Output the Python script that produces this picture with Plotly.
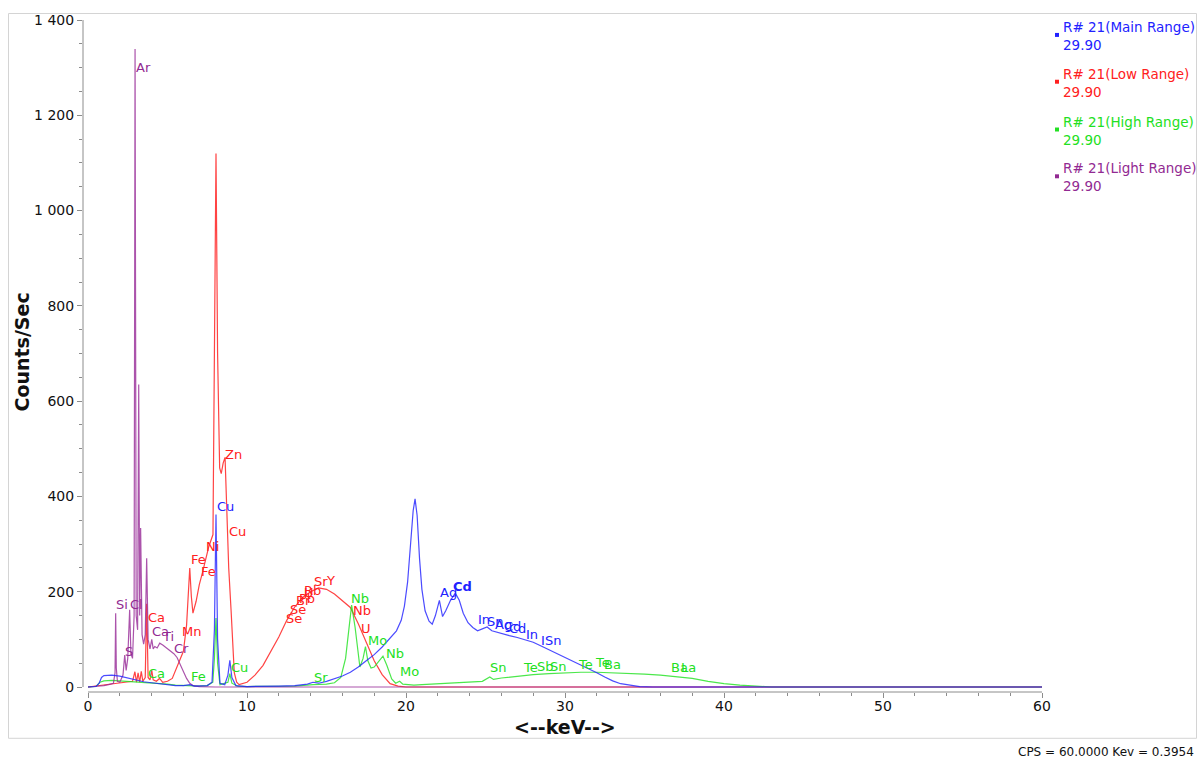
import plotly.graph_objects as go

# ---------------- data (keV, counts/sec) ----------------
main_kev = [0, 0.5, 0.7, 0.85, 1.0, 1.5, 2.0, 2.5, 3.0, 3.5, 4.0, 4.5, 5.0, 5.5, 6.0, 6.4, 6.7, 7.0, 7.5, 7.8,
            7.95, 8.05, 8.15, 8.3, 8.6, 8.8, 8.92, 9.05, 9.3, 10, 11, 12, 13, 13.8, 14.15, 14.5, 15, 15.5, 16,
            16.5, 17, 17.5, 18, 18.5, 19, 19.4, 19.7, 19.9, 20.1, 20.3, 20.45, 20.57, 20.7, 20.85, 21.0, 21.2,
            21.45, 21.65, 21.85, 22.1, 22.3, 22.5, 22.8, 23.1, 23.35, 23.6, 23.9, 24.2, 24.5, 24.8, 25.1, 25.4,
            25.9, 26.5, 27.0, 27.5, 28.0, 28.5, 29.0, 29.5, 30.0, 30.5, 31.0, 31.5, 32.0, 32.5, 33.0, 33.5, 34.0,
            34.7, 35.5, 60]
main_cps = [0, 1, 8, 20, 24, 25, 23, 19, 15, 11, 9, 7, 5, 3, 3, 5, 2, 2, 3, 10,
            120, 362, 100, 8, 5, 25, 56, 20, 3, 1, 1, 2, 3, 6, 10, 8, 12, 17, 23,
            31, 42, 55, 68, 84, 102, 118, 140, 170, 220, 300, 370, 395, 360, 270, 205, 160,
            138, 132, 150, 182, 148, 160, 182, 197, 182, 155, 135, 125, 118, 122, 126, 118,
            113, 108, 104, 99, 94, 86, 78, 70, 63, 55, 47, 38, 30, 21, 13, 7, 4,
            1, 0, 0]

low_kev = [0, 0.5, 1.0, 1.5, 2.0, 2.5, 2.8, 2.95, 3.05, 3.15, 3.25, 3.35, 3.45, 3.6, 3.69, 3.78, 3.9, 4.01,
           4.1, 4.3, 4.5, 4.7, 5.0, 5.3, 5.6, 5.8, 6.0, 6.2, 6.4, 6.5, 6.6, 6.8, 7.0, 7.2, 7.4, 7.6, 7.86,
           7.95, 8.05, 8.15, 8.28, 8.38, 8.5, 8.62, 8.7, 8.85, 9.0, 9.1, 9.2, 9.35, 9.5, 10.0, 10.5, 11.0,
           11.5, 12.0, 12.5, 13.0, 13.5, 14.0, 14.5, 15.0, 15.5, 16.0, 16.5, 17.0, 17.5, 18.0, 18.5, 19.0,
           19.5, 20.0, 60]
low_cps = [0, 2, 5, 6, 8, 10, 12, 32, 10, 30, 10, 33, 12, 20, 175, 20, 15, 35,
           15, 12, 18, 10, 12, 18, 42, 56, 75, 130, 250, 190, 155, 180, 215, 240, 270, 295, 320,
           700, 1120, 700, 460, 448, 470, 482, 400, 250, 160, 80, 30, 10, 5, 10, 25, 45,
           75, 105, 140, 168, 188, 200, 208, 205, 195, 182, 167, 133, 95, 55, 26, 7,
           2, 0, 0]

high_kev = [0, 0.5, 0.75, 1.0, 1.5, 2.0, 2.5, 3.0, 3.5, 4.0, 4.5, 5.0, 5.5, 6.0, 6.5, 7.0, 7.5, 7.85, 7.95,
            8.05, 8.15, 8.3, 8.8, 8.92, 9.05, 9.4, 10, 12, 13, 14.15, 15.0, 15.5, 15.9, 16.2, 16.58, 16.8,
            16.95, 17.1, 17.3, 17.45, 17.6, 17.8, 18.0, 18.3, 18.55, 18.8, 19.1, 19.35, 19.6, 19.8, 20.5,
            21, 22, 23, 24, 24.8, 25.27, 25.5, 26, 27, 28, 29, 30, 31, 32, 33, 34, 35, 36, 37, 38, 39, 40,
            41, 42, 43, 60]
high_cps = [0, 1, 10, 13, 14, 13, 12, 11, 10, 9, 8, 6, 4, 3, 3, 2, 3, 10, 60,
            145, 50, 5, 10, 28, 8, 2, 1, 1, 2, 5, 6, 9, 20, 60, 172, 125,
            80, 42, 60, 85, 55, 40, 42, 55, 65, 45, 17, 8, 12, 6, 4,
            5, 7, 9, 10, 12, 21, 16, 19, 23, 26, 28, 30, 31, 31, 30, 29, 27, 25, 22, 18, 12, 7,
            4, 2, 0, 0]

light_kev = [0, 0.5, 1.0, 1.3, 1.6, 1.7, 1.74, 1.78, 1.85, 2.0, 2.2, 2.31, 2.4, 2.5, 2.62, 2.7, 2.8, 2.9,
             2.96, 3.03, 3.12, 3.19, 3.25, 3.31, 3.4, 3.5, 3.6, 3.69, 3.78, 3.9, 4.01, 4.1, 4.2, 4.35, 4.51,
             4.7, 4.9, 5.1, 5.4, 5.6, 5.8, 6.0, 6.2, 6.4, 6.6, 7.0, 8.0, 60]
light_cps = [0, 1, 3, 5, 8, 30, 155, 40, 12, 10, 25, 67, 35, 60, 162, 70, 60, 150,
             1339, 150, 120, 635, 150, 334, 110, 90, 110, 270, 100, 80, 100, 80, 85, 82, 92,
             88, 83, 78, 70, 62, 48, 32, 18, 8, 3, 1, 0, 0]

# element labels per series (text, keV, counts)
main_lbl = ["Cu", "Ag", "<b>Cd</b>", "In", "Sn", "Ag", "Cd", "Cd", "In", "I", "Sn"]
main_lbl_x = [8.62, 22.7, 23.58, 24.9, 25.6, 26.16, 26.67, 27.04, 27.92, 28.6, 29.25]
main_lbl_y = [378, 198, 211, 142, 138, 132, 127, 123, 111, 98, 98]

low_lbl = ["Ca", "Mn", "Fe", "Fe", "Ni", "Zn", "Cu", "Se", "Se", "Br", "Pb", "U", "Rb", "Sr", "Y", "Nb", "U"]
low_lbl_x = [4.28, 6.48, 6.92, 7.55, 7.86, 9.18, 9.43, 12.96, 13.2, 13.58, 13.77, 13.9, 14.15, 14.65, 15.22,
             17.23, 17.48]
low_lbl_y = [146, 117, 267, 242, 295, 489, 326, 144, 163, 182, 186, 198, 203, 221, 224, 161, 123]

high_lbl = ["Ca", "Fe", "Cu", "Sr", "Nb", "Mo", "Nb", "Mo", "Sn", "Te", "Sb", "Sn", "Te", "Te", "Ba", "Ba", "La"]
high_lbl_x = [4.28, 6.92, 9.5, 14.65, 17.1, 18.18, 19.3, 20.19, 25.79, 27.86, 28.8, 29.56, 31.32, 32.33,
              32.96, 37.23, 37.74]
high_lbl_y = [29, 23, 40, 21, 186, 98, 71, 33, 40, 40, 44, 44, 48, 52, 48, 42, 42]

light_lbl = ["Ar", "Si", "Cl", "S", "Ca", "Ti", "Cr"]
light_lbl_x = [3.52, 2.14, 3.02, 2.58, 4.59, 5.03, 5.91]
light_lbl_y = [1300, 173, 173, 75, 117, 107, 81]

legend_names = ["R# 21(Main Range)", "R# 21(Low Range)", "R# 21(High Range)", "R# 21(Light Range)"]
legend_values = ["29.90", "29.90", "29.90", "29.90"]

x_ticks = [0, 10, 20, 30, 40, 50, 60]
y_ticks = [0, 200, 400, 600, 800, 1000, 1200, 1400]

# ---------------- styling ----------------
FONT = "DejaVu Sans"
series = [
    ("low", low_kev, low_cps, "rgba(255,20,20,0.8)", "#ff2020", low_lbl, low_lbl_x, low_lbl_y),
    ("high", high_kev, high_cps, "rgba(30,225,30,0.8)", "#22e022", high_lbl, high_lbl_x, high_lbl_y),
    ("light", light_kev, light_cps, "rgba(150,40,150,0.8)", "#922a92", light_lbl, light_lbl_x, light_lbl_y),
    ("main", main_kev, main_cps, "rgba(30,30,255,0.8)", "#2222ff", main_lbl, main_lbl_x, main_lbl_y),
]

fig = go.Figure()
annotations = []
for name, xs, ys, lc, tc, lbl, lx, ly in series:
    fig.add_trace(go.Scatter(x=xs, y=ys, mode="lines", line=dict(color=lc, width=1.2),
                             name=name, showlegend=False, hoverinfo="skip"))
    for t, a, b in zip(lbl, lx, ly):
        annotations.append(dict(x=a, y=b, xref="x", yref="y", text=t, showarrow=False,
                                font=dict(family=FONT, size=13, color=tc),
                                xanchor="center", yanchor="middle"))

# legend (custom, right side)
legend_colors = ["#2222ff", "#ff2020", "#22e022", "#922a92"]
W, H, L, B_ = 959, 675, 83, 70
def px(xp):
    return (xp - L) / W
def py(yp):
    return (762 - B_ - yp) / H

tops = [14, 61, 109, 156]
shapes = []
for nm, val, col, top in zip(legend_names, legend_values, legend_colors, tops):
    annotations.append(dict(x=px(1061), y=py(top), xref="paper", yref="paper", xanchor="left", yanchor="top",
                            text=nm + "<br>" + val, align="left", showarrow=False,
                            font=dict(family=FONT, size=13.5, color=col)))
    shapes.append(dict(type="rect", xref="paper", yref="paper", x0=px(1055), x1=px(1059),
                       y0=py(top + 20), y1=py(top + 16), fillcolor=col, line=dict(width=0)))

# axis lines (detached style)
shapes.append(dict(type="line", xref="paper", yref="y", x0=0, x1=0, y0=0, y1=1400,
                   line=dict(color="#8c8c8c", width=1)))
shapes.append(dict(type="line", xref="x", yref="paper", x0=0, x1=60, y0=0, y1=0,
                   line=dict(color="#8c8c8c", width=1)))
# outer frame
shapes.append(dict(type="rect", xref="paper", yref="paper", x0=px(8.5), x1=px(1196.5), y0=py(738.5),
                   y1=py(10.5), line=dict(color="#d4d4d4", width=1), fillcolor="rgba(0,0,0,0)"))

# axis titles and status text
annotations.append(dict(x=px(565), y=py(727), xref="paper", yref="paper", text="<b><--keV--></b>",
                        showarrow=False, font=dict(family=FONT, size=19, color="#111111"),
                        xanchor="center", yanchor="middle"))
annotations.append(dict(x=px(22), y=py(350), xref="paper", yref="paper", text="<b>Counts/Sec</b>",
                        showarrow=False, textangle=-90, font=dict(family=FONT, size=19, color="#111111"),
                        xanchor="center", yanchor="middle"))
annotations.append(dict(x=px(1196), y=py(752), xref="paper", yref="paper", text="CPS = 60.0000 Kev = 0.3954",
                        showarrow=False, font=dict(family=FONT, size=12, color="#111111"),
                        xanchor="right", yanchor="middle"))

fig.update_layout(
    width=1203, height=762,
    margin=dict(l=L, r=1203 - L - W, t=762 - B_ - H, b=B_, pad=0),
    paper_bgcolor="white", plot_bgcolor="white",
    separators=". ",
    font=dict(family=FONT, size=14, color="#111111"),
    annotations=annotations, shapes=shapes,
    showlegend=False,
)
fig.update_xaxes(range=[-0.3145, 60], tickvals=x_ticks, ticks="outside", ticklen=5, tickcolor="#8c8c8c",
                 showgrid=False, zeroline=False, showline=False, ticklabelstandoff=-4,
                 minor=dict(dtick=2, tick0=0, ticks="outside", ticklen=3, tickcolor="#8c8c8c", showgrid=False),
                 tickfont=dict(family=FONT, size=14, color="#111111"))
fig.update_yaxes(range=[-10.45, 1400], tickvals=y_ticks, ticks="outside", ticklen=5, tickcolor="#8c8c8c",
                 showgrid=False, zeroline=False, showline=False, separatethousands=True,
                 minor=dict(dtick=50, tick0=0, ticks="outside", ticklen=3, tickcolor="#8c8c8c", showgrid=False),
                 tickfont=dict(family=FONT, size=14, color="#111111"))

fig.write_html("out.html", config={"displayModeBar": False},
               post_script="document.body.style.margin='0';")
